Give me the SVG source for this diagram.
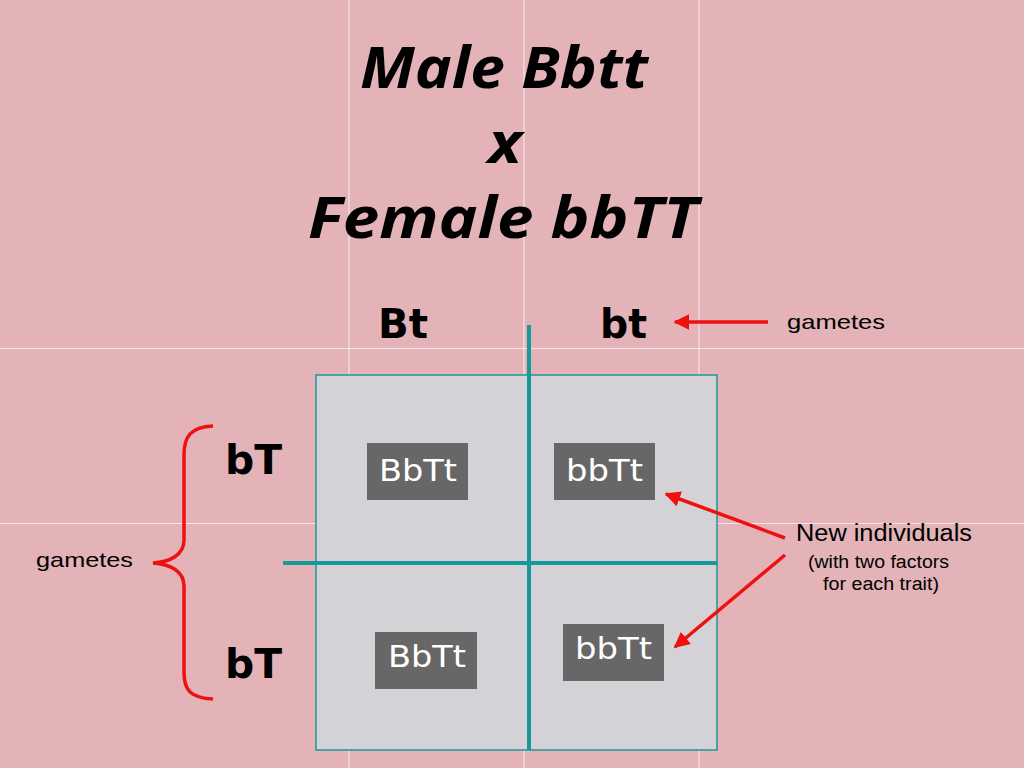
<svg xmlns="http://www.w3.org/2000/svg" width="1024" height="768" viewBox="0 0 1024 768">
<defs>
<style>
.title{font-family:"Open Sans","Liberation Sans",sans-serif;font-weight:bold;font-style:italic;font-size:58px;fill:#000}
.gam{font-family:"DejaVu Sans","Noto Sans",sans-serif;font-weight:bold;font-size:40px;fill:#000}
.cell{font-family:"DejaVu Sans","Noto Sans",sans-serif;font-size:30px;fill:#fff}
.note{font-family:"Liberation Sans",Arial,sans-serif;fill:#000}
.box{fill:#676767}
.seam{stroke:#f4e6e8;stroke-width:1.2}
.teal{stroke:#17999a;fill:none}
.red{stroke:#f01010;stroke-width:3.5;fill:none}
</style>
<marker id="ah" viewBox="0 0 10 10" refX="9" refY="5" markerWidth="4.5" markerHeight="4.5" orient="auto" markerUnits="strokeWidth">
<path d="M0,0 L10,5 L0,10 Z" fill="#f01010"/>
</marker>
</defs>
<g id="background">
<rect x="0" y="0" width="1024" height="768" fill="#e3b3b7"/>
<line class="seam" x1="349" y1="0" x2="349" y2="768"/>
<line class="seam" x1="524" y1="0" x2="524" y2="768"/>
<line class="seam" x1="699" y1="0" x2="699" y2="768"/>
<line class="seam" x1="0" y1="348.5" x2="1024" y2="348.5"/>
<line class="seam" x1="0" y1="523.5" x2="1024" y2="523.5"/>
</g>
<g id="title">
<text class="title" x="360" y="88" textLength="288" lengthAdjust="spacingAndGlyphs">Male Bbtt</text>
<text class="title" x="488" y="163" textLength="34" lengthAdjust="spacingAndGlyphs">x</text>
<text class="title" x="308" y="238" textLength="390" lengthAdjust="spacingAndGlyphs">Female bbTT</text>
</g>
<g id="punnett-grid">
<rect x="316" y="375" width="401" height="375" fill="#d3d4d8" fill-opacity="0.95" stroke="#17999a" stroke-width="1.5"/>
<line class="teal" x1="529" y1="325" x2="529" y2="750" stroke-width="4"/>
<line class="teal" x1="283" y1="563" x2="717" y2="563" stroke-width="4"/>
</g>
<g id="gamete-Bt"><text class="gam" x="378" y="338" textLength="50" lengthAdjust="spacingAndGlyphs">Bt</text></g>
<g id="gamete-bt"><text class="gam" x="600" y="338" textLength="47" lengthAdjust="spacingAndGlyphs">bt</text></g>
<g id="gamete-bT-1"><text class="gam" x="225" y="474" textLength="57" lengthAdjust="spacingAndGlyphs">bT</text></g>
<g id="gamete-bT-2"><text class="gam" x="225" y="678" textLength="57" lengthAdjust="spacingAndGlyphs">bT</text></g>
<g id="cell-1">
<rect class="box" x="367" y="443" width="101" height="57"/>
<text class="cell" x="379" y="481" textLength="78" lengthAdjust="spacingAndGlyphs">BbTt</text>
</g>
<g id="cell-2">
<rect class="box" x="554" y="443" width="101" height="57"/>
<text class="cell" x="566" y="481" textLength="77" lengthAdjust="spacingAndGlyphs">bbTt</text>
</g>
<g id="cell-3">
<rect class="box" x="375" y="632" width="102" height="57"/>
<text class="cell" x="388" y="667" textLength="78" lengthAdjust="spacingAndGlyphs">BbTt</text>
</g>
<g id="cell-4">
<rect class="box" x="563" y="624" width="101" height="57"/>
<text class="cell" x="575" y="659" textLength="77" lengthAdjust="spacingAndGlyphs">bbTt</text>
</g>
<g id="label-gametes-top"><text class="note" x="787" y="329" font-size="21" textLength="98" lengthAdjust="spacingAndGlyphs">gametes</text></g>
<g id="label-gametes-left"><text class="note" x="36" y="567" font-size="21" textLength="97" lengthAdjust="spacingAndGlyphs">gametes</text></g>
<g id="label-new-individuals">
<text class="note" x="796" y="541" font-size="23" textLength="176" lengthAdjust="spacingAndGlyphs">New individuals</text>
<text class="note" x="808" y="568" font-size="18" textLength="141" lengthAdjust="spacingAndGlyphs">(with two factors</text>
<text class="note" x="823" y="590" font-size="18" textLength="116" lengthAdjust="spacingAndGlyphs">for each trait)</text>
</g>
<g id="brace">
<path class="red" stroke-width="4" d="M213,426 C190,427 184,437 184,455 L184,540 C184,555 170,562 153,563 C170,564 184,571 184,586 L184,672 C184,690 190,698 213,699"/>
</g>
<g id="connectors">
<line class="red" x1="768" y1="322" x2="675" y2="322" marker-end="url(#ah)"/>
<line class="red" x1="785" y1="538" x2="666" y2="494" marker-end="url(#ah)"/>
<line class="red" x1="785" y1="555" x2="675" y2="647" marker-end="url(#ah)"/>
</g>
</svg>
